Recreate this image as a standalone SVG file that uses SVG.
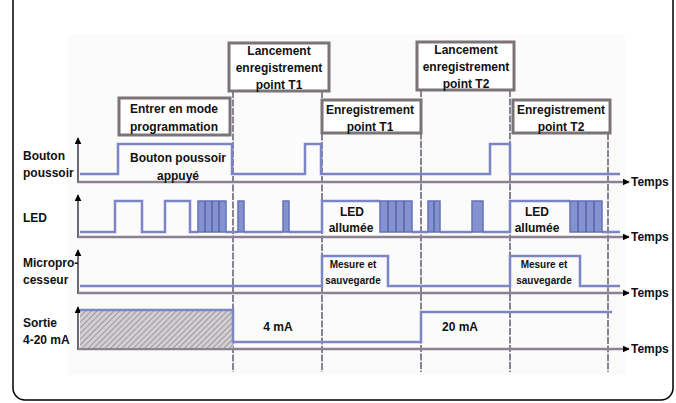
<svg xmlns="http://www.w3.org/2000/svg" width="676" height="403" viewBox="0 0 676 403">
<defs>
<style>
.t{font-family:"Liberation Sans",Arial,sans-serif;font-weight:bold;font-size:12px;fill:#111}
.s{font-size:10px}
.c{text-anchor:middle}
.box{fill:#fff;stroke:#7a7478;stroke-width:3}
.base{stroke:#8a8290;stroke-width:2.5;fill:none}
.axis{stroke:#6e6670;stroke-width:2;fill:none}
.sig{stroke:#7c86c4;stroke-width:2.5;fill:none;stroke-linejoin:miter}
.vl{stroke:#8a8290;stroke-width:2;stroke-dasharray:7 1.5;fill:none}
.burst{fill:#8492d0;stroke:#6472b8;stroke-width:1.5}
.bl{stroke:#4f5ca8;stroke-width:1.3}
</style>
<marker id="ar" viewBox="0 0 10 10" refX="9" refY="5" markerWidth="7" markerHeight="7" markerUnits="userSpaceOnUse" orient="auto">
<path d="M0,0 L10,5 L0,10 z" fill="#000"/>
</marker>
<pattern id="hatch" width="4" height="4" patternUnits="userSpaceOnUse" patternTransform="rotate(45)">
<rect width="4" height="4" fill="#d2ced2"/>
<line x1="0" y1="0" x2="0" y2="4" stroke="#8e8a8e" stroke-width="1.6"/>
</pattern>
</defs>
<rect x="0" y="0" width="676" height="403" fill="#fff"/>
<rect id="frame" x="13" y="-20" width="660" height="420" rx="12" fill="none" stroke="#000" stroke-width="1.5"/>
<rect x="68" y="35" width="557" height="340" fill="#fbfbfc"/>

<g id="connectors">
<g id="verticals">
<line class="vl" x1="233" y1="91" x2="233" y2="372"/>
<line class="vl" x1="322" y1="91" x2="322" y2="372"/>
<line class="vl" x1="421" y1="90" x2="421" y2="372"/>
<line class="vl" x1="510" y1="90" x2="510" y2="372"/>
<line class="vl" x1="608" y1="133" x2="608" y2="372"/>
</g>
<g id="axes">
<line class="axis" x1="78" y1="183" x2="78" y2="138" marker-end="url(#ar)"/>
<line class="base" x1="78" y1="182" x2="629" y2="182" marker-end="url(#ar)"/>
<line class="axis" x1="78" y1="238" x2="78" y2="195" marker-end="url(#ar)"/>
<line class="base" x1="78" y1="237" x2="629" y2="237" marker-end="url(#ar)"/>
<line class="axis" x1="78" y1="294" x2="78" y2="250" marker-end="url(#ar)"/>
<line class="base" x1="78" y1="293" x2="629" y2="293" marker-end="url(#ar)"/>
<line class="axis" x1="78" y1="350" x2="78" y2="307" marker-end="url(#ar)"/>
<line class="base" x1="78" y1="349" x2="629" y2="349" marker-end="url(#ar)"/>
</g>
<g id="signal-bouton">
<path class="sig" d="M80,174 H118 V144 H232 V174 H305 V144 H321 V174 H490 V144 H510 V174 H620"/>
</g>
<g id="signal-led">
<path class="sig" d="M80,232 H115 V201 H142 V232 H165 V201 H190 V232 H198 M226,232 H238 M244,232 H283 M289,232 H322 V201 H380 M412,232 H428 M440,232 H472 M483,232 H510 V201 H570 M602,232 H620"/>
<rect class="burst" x="198" y="201" width="28" height="31"/>
<line class="bl" x1="205" y1="201" x2="205" y2="232"/>
<line class="bl" x1="212" y1="201" x2="212" y2="232"/>
<line class="bl" x1="219" y1="201" x2="219" y2="232"/>
<rect class="burst" x="238" y="201" width="6" height="31"/>
<rect class="burst" x="283" y="201" width="6" height="31"/>
<rect class="burst" x="380" y="201" width="32" height="31"/>
<line class="bl" x1="388" y1="201" x2="388" y2="232"/>
<line class="bl" x1="396" y1="201" x2="396" y2="232"/>
<line class="bl" x1="404" y1="201" x2="404" y2="232"/>
<rect class="burst" x="428" y="201" width="12" height="31"/>
<line class="bl" x1="434" y1="201" x2="434" y2="232"/>
<rect class="burst" x="472" y="201" width="11" height="31"/>
<rect class="burst" x="570" y="201" width="32" height="31"/>
<line class="bl" x1="578" y1="201" x2="578" y2="232"/>
<line class="bl" x1="586" y1="201" x2="586" y2="232"/>
<line class="bl" x1="594" y1="201" x2="594" y2="232"/>
</g>
<g id="signal-micro">
<path class="sig" d="M80,286 H322 V256 H388 V286 H510 V256 H580 V286 H620"/>
</g>
<g id="signal-sortie">
<rect x="80" y="310" width="153" height="38" fill="url(#hatch)"/>
<path class="sig" d="M80,310 H233 V342 H421 V312 H612"/>
</g>
</g>

<g id="box-entrer">
<rect class="box" x="119" y="98" width="111" height="37"/>
<text class="t c" x="174" y="112.5">Entrer en mode</text>
<text class="t c" x="174" y="130.5">programmation</text>
</g>
<g id="box-lancement-t1">
<rect class="box" x="229" y="43" width="100" height="48"/>
<text class="t c" x="279" y="54.5">Lancement</text>
<text class="t c" x="279" y="71.5">enregistrement</text>
<text class="t c" x="279" y="88.5">point T1</text>
</g>
<g id="box-enreg-t1">
<rect class="box" x="322" y="100" width="99" height="33"/>
<text class="t c" x="370" y="113.5">Enregistrement</text>
<text class="t c" x="370" y="130.5">point T1</text>
</g>
<g id="box-lancement-t2">
<rect class="box" x="417" y="42" width="97" height="48"/>
<text class="t c" x="466" y="54">Lancement</text>
<text class="t c" x="466" y="71">enregistrement</text>
<text class="t c" x="466" y="88">point T2</text>
</g>
<g id="box-enreg-t2">
<rect class="box" x="513" y="100" width="97" height="33"/>
<text class="t c" x="561" y="113.5">Enregistrement</text>
<text class="t c" x="561" y="130.5">point T2</text>
</g>

<g id="labels-left">
<text class="t" x="23" y="159.5">Bouton</text>
<text class="t" x="23" y="176.5">poussoir</text>
<text class="t" x="23" y="221.5">LED</text>
<text class="t" x="23" y="266.5">Micropro-</text>
<text class="t" x="23" y="283.5">cesseur</text>
<text class="t" x="23" y="326.5">Sortie</text>
<text class="t" x="23" y="343.5">4-20 mA</text>
</g>
<g id="labels-temps">
<text class="t" x="631" y="186">Temps</text>
<text class="t" x="631" y="241">Temps</text>
<text class="t" x="631" y="297">Temps</text>
<text class="t" x="631" y="353">Temps</text>
</g>
<g id="labels-signals">
<text class="t c" x="178" y="161.5">Bouton poussoir</text>
<text class="t c" x="178" y="179.5">appuyé</text>
<text class="t c" x="352" y="215.5">LED</text>
<text class="t c" x="351" y="231.5">allumée</text>
<text class="t c" x="537" y="215.5">LED</text>
<text class="t c" x="537" y="231.5">allumée</text>
<text class="t s c" x="353" y="268">Mesure et</text>
<text class="t s c" x="353" y="284">sauvegarde</text>
<text class="t s c" x="544" y="268">Mesure et</text>
<text class="t s c" x="544" y="284">sauvegarde</text>
<text class="t c" x="278" y="330.5">4 mA</text>
<text class="t c" x="460" y="330.5">20 mA</text>
</g>
</svg>
